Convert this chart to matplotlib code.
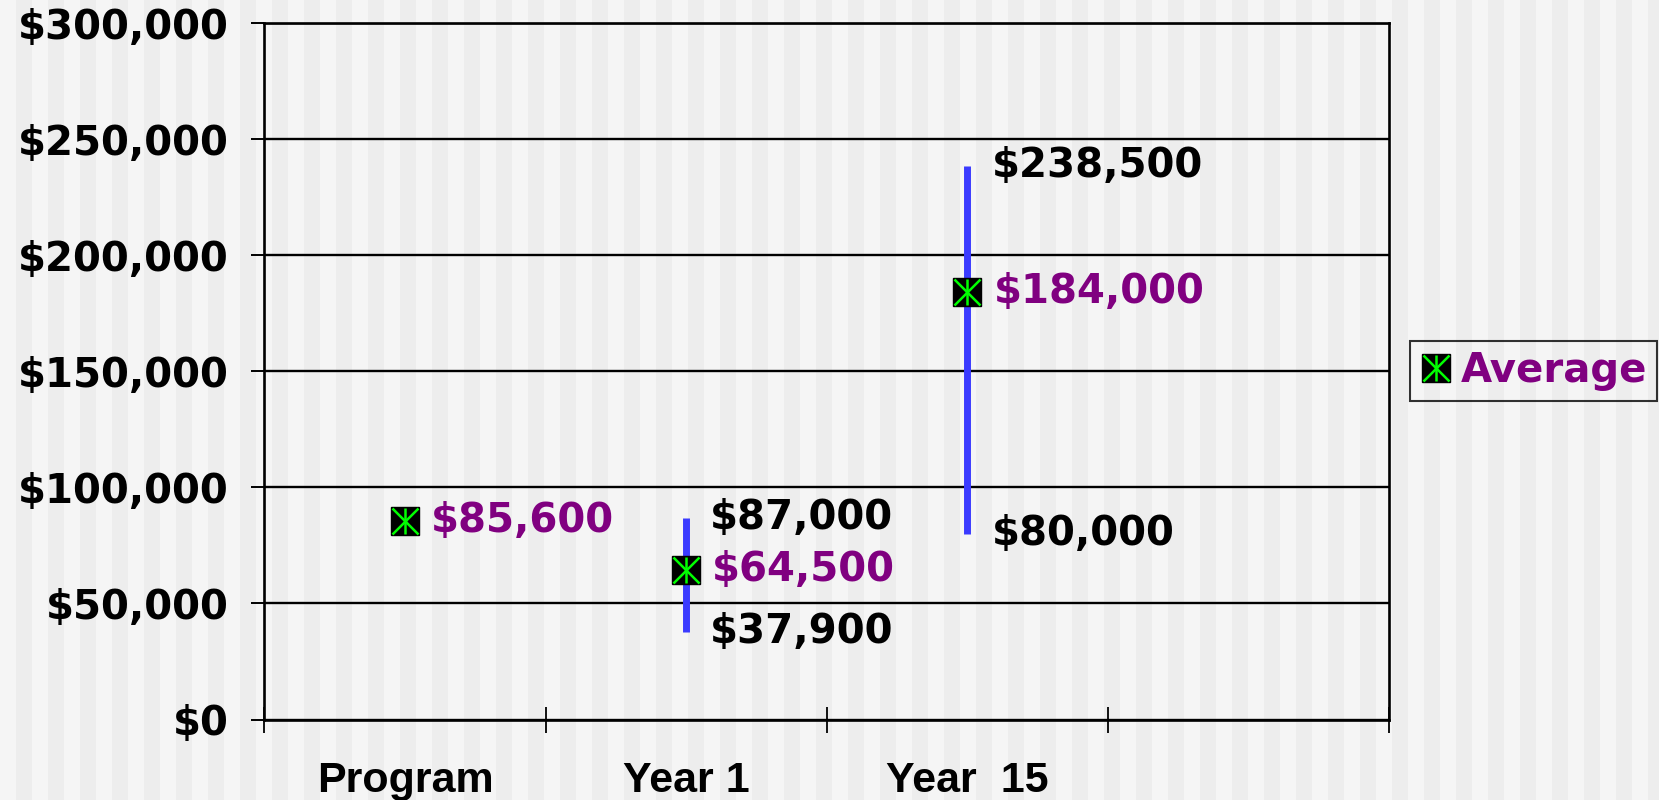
import numpy as np
import matplotlib
matplotlib.use("Agg")
import matplotlib.pyplot as plt
from matplotlib.legend_handler import HandlerTuple

# ---- data ----
categories = ["Program", "Year 1", "Year  15", ""]
avg_values = [85600, 64500, 184000]
high_values = [None, 87000, 238500]
low_values = [None, 37900, 80000]
yticks = [0, 50000, 100000, 150000, 200000, 250000, 300000]
ytick_labels = ["$0", "$50,000", "$100,000", "$150,000", "$200,000", "$250,000", "$300,000"]

PURPLE = "#800080"
BLUE = "#3b3bff"
GREEN = "#00ff00"
FONT = "DejaVu Sans"
FS = 29

fig = plt.figure(figsize=(16.59, 8.0), dpi=100)

# striped background
bg = fig.add_axes([0, 0, 1, 1], zorder=-10)
nstripes = int(np.ceil(1659 / 16))
stripe = np.array([[0.958 if i % 2 == 0 else 0.928 for i in range(nstripes)]])
bg.imshow(stripe, cmap="gray", vmin=0, vmax=1, aspect="auto",
          extent=[0, nstripes * 16, 0, 800], interpolation="nearest")
bg.set_xlim(0, 1659)
bg.set_ylim(0, 800)
bg.axis("off")

ax = fig.add_axes([0.1594, 0.1006, 0.678, 0.8703])
ax.set_facecolor("none")
ax.set_xlim(-0.5, 3.5)
ax.set_ylim(0, 300000)

# gridlines
for v in yticks:
    ax.axhline(v, color="black", lw=1.7, zorder=1)

# high-low lines
for i, (lo, hi) in enumerate(zip(low_values, high_values)):
    if lo is not None:
        ax.plot([i, i], [lo, hi], color=BLUE, lw=5, solid_capstyle="butt", zorder=3)
        ax.annotate(f"${hi:,.0f}", (i, hi), xytext=(24, 0), textcoords="offset pixels",
                    ha="left", va="center", fontsize=FS, fontweight="bold",
                    family=FONT, color="black")
        ax.annotate(f"${lo:,.0f}", (i, lo), xytext=(24, 0), textcoords="offset pixels",
                    ha="left", va="center", fontsize=FS, fontweight="bold",
                    family=FONT, color="black")

xs = np.arange(len(avg_values))
h1, = ax.plot(xs, avg_values, ls="none", marker="s", ms=20, mfc="black", mec="black", zorder=5)
h2, = ax.plot(xs, avg_values, ls="none", marker="x", ms=19, mec=GREEN, mew=1.8, zorder=6)
h3, = ax.plot(xs, avg_values, ls="none", marker="|", ms=19, mec=GREEN, mew=1.8, zorder=6)
for i, v in enumerate(avg_values):
    ax.annotate(f"${v:,.0f}", (i, v), xytext=(26, 0), textcoords="offset pixels",
                ha="left", va="center", fontsize=FS, fontweight="bold",
                family=FONT, color=PURPLE)

# axes styling
for s in ax.spines.values():
    s.set_linewidth(1.9)
    s.set_color("black")
ax.set_yticks(yticks)
ax.set_yticklabels(ytick_labels, fontsize=FS, fontweight="bold", family=FONT)
ax.tick_params(axis="y", direction="out", length=9.5, width=1.4, pad=16)

ax.set_xticks([-0.5, 0.5, 1.5, 2.5, 3.5])
ax.set_xticklabels([])
ax.tick_params(axis="x", which="major", direction="inout", length=19, width=1.3)
ax.set_xticks(np.arange(len(categories)), minor=True)
ax.set_xticklabels(categories, minor=True, fontsize=31, fontweight="bold",
                   family="Liberation Sans")
ax.tick_params(axis="x", which="minor", length=0, pad=30)

leg = fig.legend([(h1, h2, h3)], ["Average"], handler_map={tuple: HandlerTuple(ndivide=1)},
                 loc="center", bbox_to_anchor=(0.9244, 0.536), frameon=True,
                 fancybox=False, handlelength=0.8, handletextpad=0.2, borderpad=0.25,
                 borderaxespad=0,
                 prop={"size": FS, "weight": "bold", "family": FONT})
for t in leg.get_texts():
    t.set_color(PURPLE)
leg.get_frame().set_edgecolor("black")
leg.get_frame().set_linewidth(1.5)
leg.get_frame().set_facecolor("none")

fig.savefig("out.png", dpi=100)
